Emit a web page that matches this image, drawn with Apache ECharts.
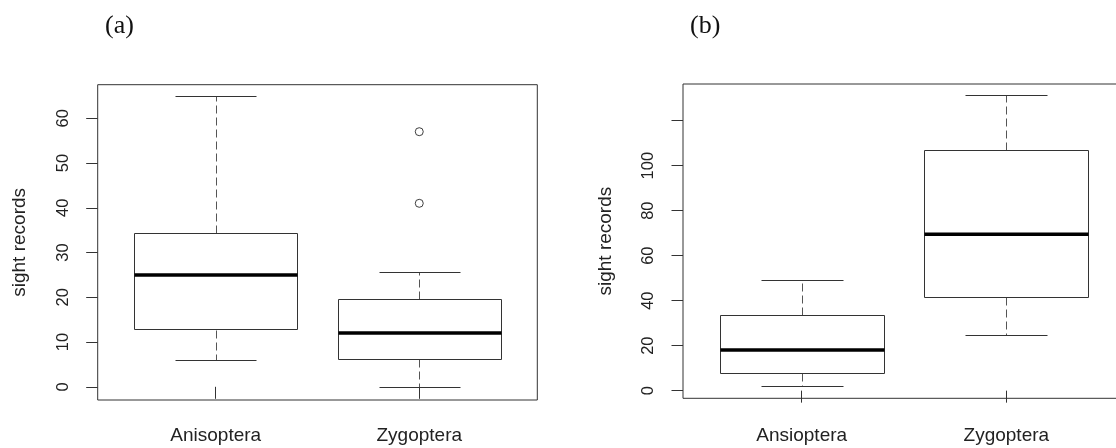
<!DOCTYPE html>
<html>
<head>
<meta charset="utf-8">
<script src="https://cdn.jsdelivr.net/npm/echarts@6/dist/echarts.min.js"></script>
<style>html,body{margin:0;padding:0;background:#fff}#c{width:1116px;height:448px}</style>
</head>
<body>
<div id="c"></div>
<script>
// ---- data ----
const catsA = ['Anisoptera', 'Zygoptera'];
// [lower whisker, Q1, median, Q3, upper whisker]
const statsA = [[6, 12.8, 25, 34.3, 65], [0, 6.3, 12, 19.7, 25.7]];
const outliersA = [[2, 57], [2, 41]];
const ticksA = [0, 10, 20, 30, 40, 50, 60];

const catsB = ['Ansioptera', 'Zygoptera'];
const statsB = [[2.2, 7.9, 18.1, 33.5, 49.3], [24.9, 41.5, 69.5, 107, 131.4]];
const outliersB = [];
const ticksB = [0, 20, 40, 60, 80, 100, 120];
const tickLabelsB = [0, 20, 40, 60, 80, 100];

const panelTitles = ['(a)', '(b)'];
const yTitle = 'sight records';

// ---- rendering ----
const SANS = 'Liberation Sans, Arial, sans-serif';
const LINE = '#333';

function renderBox(params, api) {
  const x = api.value(0);
  const lo = api.value(1), q1 = api.value(2), md = api.value(3), q3 = api.value(4), hi = api.value(5);
  const P = (dx, v) => api.coord([x + dx, v]);
  const r = v => Math.round(v) + 0.5;
  const bw = 0.4, cw = 0.2;
  const tl = P(-bw, q3), br = P(bw, q1);
  const cx = r(P(0, md)[0]);
  const seg = (a, b, style) => ({
    type: 'line',
    shape: { x1: r(a[0]), y1: r(a[1]), x2: r(b[0]), y2: r(b[1]) },
    style: style
  });
  const dashed = { stroke: '#555', lineWidth: 1, lineDash: [8, 4] };
  const solid = { stroke: LINE, lineWidth: 1 };
  return {
    type: 'group',
    children: [
      { type: 'line', shape: { x1: cx, y1: r(P(0, q3)[1]), x2: cx, y2: r(P(0, hi)[1]) }, style: dashed },
      { type: 'line', shape: { x1: cx, y1: r(P(0, q1)[1]), x2: cx, y2: r(P(0, lo)[1]) }, style: dashed },
      seg(P(-cw, hi), P(cw, hi), solid),
      seg(P(-cw, lo), P(cw, lo), solid),
      {
        type: 'rect',
        shape: { x: r(tl[0]), y: r(tl[1]), width: Math.round(br[0] - tl[0]), height: Math.round(br[1] - tl[1]) },
        style: { fill: '#fff', stroke: LINE, lineWidth: 1 }
      },
      {
        type: 'line',
        shape: { x1: r(tl[0]), y1: P(0, md)[1], x2: r(br[0]), y2: P(0, md)[1] },
        style: { stroke: '#000', lineWidth: 3.5 }
      }
    ]
  };
}

const grids = [
  { left: 97.7, top: 84.7, width: 439.6, height: 315.3 },
  { left: 683, top: 84, width: 442, height: 314.3 }
];

function xAxisFor(i, cats, margin) {
  return {
    type: 'value', gridIndex: i, min: 0.42, max: 2.58,
    axisLine: { show: false }, splitLine: { show: false },
    axisTick: { show: true, customValues: [1, 2], length: 12, lineStyle: { color: LINE } },
    axisLabel: {
      customValues: [1, 2], formatter: v => cats[Math.round(v) - 1],
      fontSize: 19, color: '#222', margin: margin, fontFamily: SANS
    }
  };
}
function yAxisFor(i, min, max, ticks, labels) {
  return {
    type: 'value', gridIndex: i, min: min, max: max,
    axisLine: { show: false }, splitLine: { show: false },
    axisTick: { show: true, customValues: ticks, length: 11.5, lineStyle: { color: LINE } },
    axisLabel: {
      customValues: labels, rotate: 90, margin: 26,
      fontSize: 16.5, color: '#222', fontFamily: SANS
    },
    name: yTitle, nameLocation: 'middle', nameRotate: 90, nameGap: 68,
    nameTextStyle: { fontSize: 19, color: '#222', fontFamily: SANS }
  };
}

const option = {
  animation: false,
  backgroundColor: '#fff',
  title: [
    { text: panelTitles[0], left: 105, top: 13, padding: 0,
      textStyle: { fontFamily: 'Liberation Serif, Times New Roman, serif', fontSize: 26, fontWeight: 'normal', color: '#111' } },
    { text: panelTitles[1], left: 690, top: 13, padding: 0,
      textStyle: { fontFamily: 'Liberation Serif, Times New Roman, serif', fontSize: 26, fontWeight: 'normal', color: '#111' } }
  ],
  grid: grids.map(g => Object.assign({
    show: true, borderColor: LINE, borderWidth: 1, backgroundColor: 'transparent',
    containLabel: false, outerBoundsMode: 'none'
  }, g)),
  xAxis: [xAxisFor(0, catsA, 26), xAxisFor(1, catsB, 28)],
  yAxis: [
    yAxisFor(0, -2.95, 67.5, ticksA, ticksA),
    yAxisFor(1, -3.4, 136.3, ticksB, tickLabelsB)
  ],
  series: [
    { type: 'custom', xAxisIndex: 0, yAxisIndex: 0, renderItem: renderBox,
      encode: { x: 0, y: [1, 2, 3, 4, 5] },
      data: statsA.map((s, i) => [i + 1].concat(s)) },
    { type: 'scatter', xAxisIndex: 0, yAxisIndex: 0, data: outliersA,
      symbol: 'circle', symbolSize: 8,
      itemStyle: { color: '#fff', borderColor: '#111', borderWidth: 1 } },
    { type: 'custom', xAxisIndex: 1, yAxisIndex: 1, renderItem: renderBox,
      encode: { x: 0, y: [1, 2, 3, 4, 5] },
      data: statsB.map((s, i) => [i + 1].concat(s)) },
    { type: 'scatter', xAxisIndex: 1, yAxisIndex: 1, data: outliersB,
      symbol: 'circle', symbolSize: 8,
      itemStyle: { color: '#fff', borderColor: '#111', borderWidth: 1 } }
  ]
};

const chart = echarts.init(document.getElementById('c'), null, { renderer: 'canvas' });
chart.setOption(option);
</script>
</body>
</html>
